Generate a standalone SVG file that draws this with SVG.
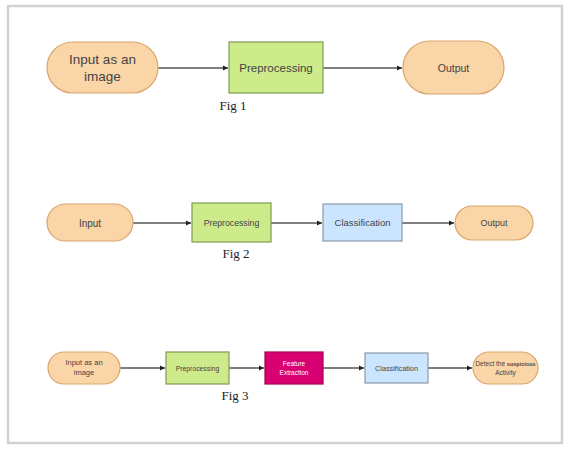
<svg xmlns="http://www.w3.org/2000/svg" width="565" height="449" viewBox="0 0 565 449">
<defs>
<marker id="ah" markerWidth="6" markerHeight="6" refX="5" refY="3" orient="auto" markerUnits="userSpaceOnUse">
<path d="M0,0.5 L5,3 L0,5.5 Z" fill="#222"/>
</marker>
<style>
.term{fill:#f9d5a7;stroke:#d9a66c;stroke-width:1.2}
.pre{fill:#cdeb8b;stroke:#7f9a55;stroke-width:1.2}
.cls{fill:#cce5ff;stroke:#8a9aaa;stroke-width:1.2}
.feat{fill:#d80073;stroke:#a0004f;stroke-width:1.2}
.t{font-family:"Liberation Sans",Arial,sans-serif;fill:#444;text-anchor:middle}
.w{fill:#ffffff}
.fig{font-family:"Liberation Serif","Times New Roman",serif;fill:#222;text-anchor:middle;font-size:13px}
.c{stroke:#555;stroke-width:1.3;fill:none;marker-end:url(#ah)}
</style>
</defs>
<rect width="565" height="449" fill="#ffffff"/>
<rect x="8" y="6" width="554" height="437" fill="none" stroke="#d2d2d2" stroke-width="2.5"/>

<g id="connectors">
<line class="c" x1="158" y1="68" x2="228" y2="68"/>
<line class="c" x1="323" y1="68" x2="402" y2="68"/>
<line class="c" x1="133" y1="223" x2="191" y2="223"/>
<line class="c" x1="271" y1="223" x2="322" y2="223"/>
<line class="c" x1="402" y1="223" x2="454" y2="223"/>
<line class="c" x1="120" y1="368" x2="165" y2="368"/>
<line class="c" x1="229" y1="368" x2="264" y2="368"/>
<line class="c" x1="323" y1="368" x2="364" y2="368"/>
<line class="c" x1="428" y1="368" x2="472" y2="368"/>
</g>

<g id="f1-input"><rect class="term" x="47" y="42" width="111" height="51" rx="25.5"/>
<text class="t" x="102.5" y="64" font-size="13.5">Input as an</text><text class="t" x="102.5" y="81" font-size="13.5">image</text></g>
<g id="f1-pre"><rect class="pre" x="229" y="42" width="94" height="51"/>
<text class="t" x="276" y="72" font-size="11.5">Preprocessing</text></g>
<g id="f1-out"><rect class="term" x="403" y="41" width="101" height="53" rx="26.5"/>
<text class="t" x="453.5" y="71.5" font-size="10.5">Output</text></g>
<text class="fig" x="233" y="110">Fig 1</text>

<g id="f2-input"><rect class="term" x="47" y="204" width="86" height="37" rx="18.5"/>
<text class="t" x="90" y="226.5" font-size="10">Input</text></g>
<g id="f2-pre"><rect class="pre" x="192" y="203" width="79" height="39"/>
<text class="t" x="231.5" y="226" font-size="8.7">Preprocessing</text></g>
<g id="f2-cls"><rect class="cls" x="323" y="204" width="79" height="37"/>
<text class="t" x="362.5" y="226" font-size="9.5">Classification</text></g>
<g id="f2-out"><rect class="term" x="455" y="206" width="78" height="34" rx="17"/>
<text class="t" x="494" y="226" font-size="9">Output</text></g>
<text class="fig" x="236" y="258">Fig 2</text>

<g id="f3-input"><rect class="term" x="48" y="352" width="72" height="32" rx="16"/>
<text class="t" x="84" y="365" font-size="7.5">Input as an</text><text class="t" x="84" y="375" font-size="7.5">image</text></g>
<g id="f3-pre"><rect class="pre" x="166" y="352" width="63" height="32"/>
<text class="t" x="197.5" y="370.5" font-size="6.8">Preprocessing</text></g>
<g id="f3-feat"><rect class="feat" x="265" y="352" width="58" height="32"/>
<text class="t w" x="294" y="366" font-size="6.5">Feature</text><text class="t w" x="294" y="375" font-size="6.5">Extraction</text></g>
<g id="f3-cls"><rect class="cls" x="365" y="353" width="63" height="30"/>
<text class="t" x="396.5" y="370.5" font-size="7.3">Classification</text></g>
<g id="f3-out"><rect class="term" x="473" y="352" width="65" height="32" rx="16"/>
<text class="t" x="505.5" y="366" font-size="6.5">Detect the <tspan font-weight="bold" font-size="5.5">suspicious</tspan></text><text class="t" x="505.5" y="375" font-size="6.5">Activity</text></g>
<text class="fig" x="235" y="400">Fig 3</text>
</svg>
